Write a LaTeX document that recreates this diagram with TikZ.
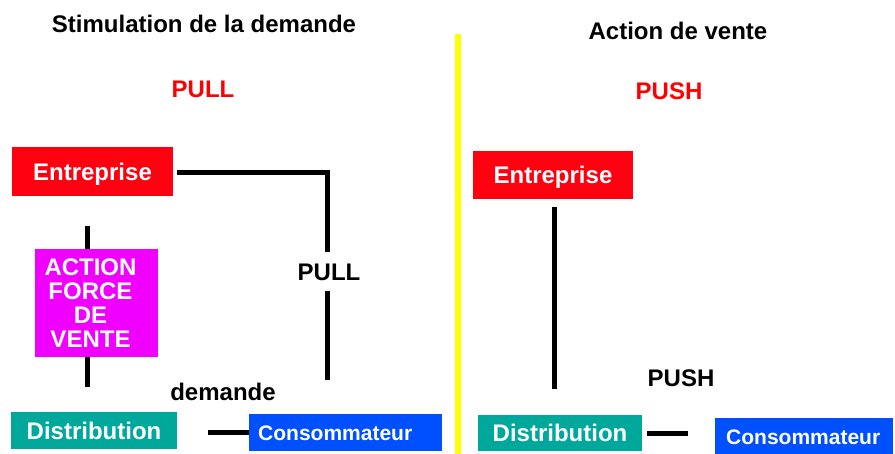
\documentclass[tikz,border=0pt]{standalone}
\usepackage{fontspec}
\setmainfont{Liberation Sans}
\definecolor{boxred}{RGB}{255,0,16}
\definecolor{boxmagenta}{RGB}{240,0,255}
\definecolor{boxteal}{RGB}{0,168,156}
\definecolor{boxblue}{RGB}{0,80,255}
\definecolor{divider}{RGB}{255,255,0}
\definecolor{headred}{RGB}{255,0,0}
\begin{document}
\begin{tikzpicture}[x=1pt,y=-1pt,
  bigtext/.style={font=\fontsize{24}{24}\selectfont\bfseries},
  capline/.style={text height=17pt,text depth=0pt,inner sep=0pt},
  colbox/.style={bigtext,capline,text=white,fill=#1,inner sep=0pt},
  consbox/.style={font=\fontsize{21}{22}\selectfont\bfseries,text=white,fill=boxblue,
    text height=15pt,text depth=0pt,inner ysep=0pt,align=left,anchor=west},
  heading/.style={bigtext,capline},
  link/.style={line width=5pt}]
\useasboundingbox (0,0) rectangle (895,453);

% ---------------- left half: demand stimulation (PULL) ----------------
\node[heading] (titleL) at (204,24) {Stimulation de la demande};
\node[heading,text=headred] (pullHead) at (203,89) {PULL};

\node[colbox=boxred,minimum width=161pt,minimum height=49pt] (entL) at (92.5,171.5) {Entreprise};
\node[colbox=boxteal,minimum width=166pt,minimum height=37pt] (distL) at (94,430.5) {Distribution};
\node[consbox,minimum width=193pt,minimum height=37pt,text width=175pt,inner xsep=9pt] (consL) at (249,432.5) {Consommateur};

% sales-force line runs behind the magenta box
\coordinate (forceTop) at (87,226);
\coordinate (forceBot) at (87,387);
\draw[link] (forceTop) -- (forceBot);
\node[fill=boxmagenta,minimum width=123pt,minimum height=108pt,inner sep=0pt] (forceBox) at (96.5,303) {};
\node[bigtext,text=white,align=center,inner sep=0pt] (forceText) at (90.5,303) {ACTION\\FORCE\\DE\\VENTE};

% pull path from the company down to the consumer side
\node[heading,minimum height=38pt] (pullLabel) at (329,271.5) {PULL};
\coordinate (pullCorner) at (327,172);
\coordinate (pullEnd) at (327,380);
\draw[link] ([xshift=4pt]entL.east |- pullCorner) -- (pullCorner) -- (pullCorner |- pullLabel.north);
\draw[link] (pullCorner |- pullLabel.south) -- (pullEnd);

\node[heading] (demande) at (223,391.5) {demande};
\draw[link] ([xshift=31pt]distL.east |- consL.west) -- (consL.west);

% ---------------- divider ----------------
\coordinate (divTop) at (458,34);
\coordinate (divBot) at (458,460);
\draw[divider,line width=6pt] (divTop) -- (divBot);

% ---------------- right half: sales action (PUSH) ----------------
\node[heading] (titleR) at (678,31) {Action de vente};
\node[heading,text=headred] (pushHead) at (669,91) {PUSH};

\node[colbox=boxred,minimum width=160pt,minimum height=48pt] (entR) at (553,175) {Entreprise};
\node[colbox=boxteal,minimum width=164pt,minimum height=36pt] (distR) at (560,433) {Distribution};
\node[consbox,minimum width=178pt,minimum height=37pt,text width=156pt,inner xsep=11pt] (consR) at (715,436.5) {Consommateur};

\coordinate (pushEnd) at (554,389);
\draw[link] ([yshift=-8pt]entR.south -| pushEnd) -- (pushEnd);
\node[heading] (pushLabel) at (681,378) {PUSH};
\draw[link] ([xshift=5pt]distR.east) -- ([xshift=-27pt]consR.west |- distR.east);
\end{tikzpicture}
\end{document}
